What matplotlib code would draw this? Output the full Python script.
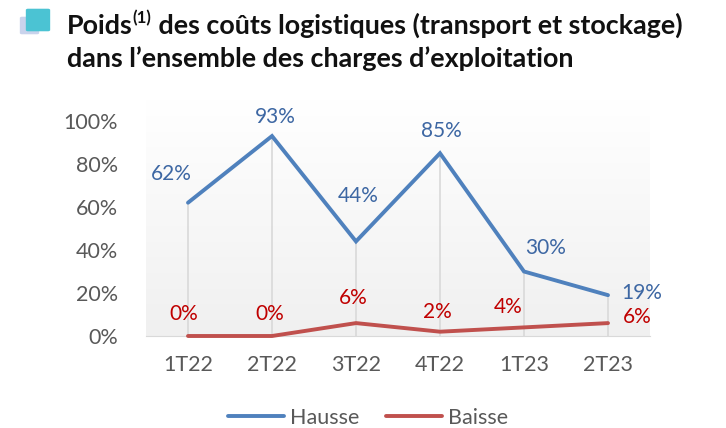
import numpy as np
import matplotlib
matplotlib.use("Agg")
import matplotlib.pyplot as plt
from matplotlib.patches import FancyBboxPatch
from matplotlib.lines import Line2D

## Donnees du graphique

trimestres = ['1T22', '2T22', '3T22', '4T22', '1T23', '2T23']
hausse     = [0.62, 0.93, 0.44, 0.85, 0.30, 0.19]
baisse     = [0.00, 0.00, 0.06, 0.02, 0.04, 0.06]
yticks     = [0.0, 0.2, 0.4, 0.6, 0.8, 1.0]

# decalages des etiquettes (pixels) par rapport aux points
off_hausse = [(-17, 29), (3, 19), (2, 45), (1, 22), (22, 23), (34, 2)]
off_baisse = [(-4, 22), (-2, 22), (-3, 25), (-3, 20), (-16, 20), (29, 6)]

c_hausse = '#4f81bd'
c_baisse = '#c0504d'
c_lab_h  = '#3d67a3'
c_lab_b  = '#c00000'
c_txt    = '#595959'

plt.rcParams['font.family'] = ['Lato', 'DejaVu Sans']

W, H = 726, 428
fig = plt.figure(figsize=(W / 100, H / 100), dpi=100)

def fx(px):
    return px / W

def fy(py):
    return 1 - py / H

## Fond en degrade

x0, x1 = 146, 650
y_0, y_100 = 336, 121
bg = fig.add_axes([fx(x0), fy(y_0), fx(x1 - x0), fy(100) - fy(y_0)])
grad = np.linspace(0, 1, 256).reshape(-1, 1)
top = np.array([1.0, 1.0, 1.0])
bot = np.array([0xf0, 0xf0, 0xf0]) / 255
img = top + (bot - top) * grad[..., None]
bg.imshow(img, aspect='auto', extent=[0, 1, 0, 1])
bg.set_axis_off()

## Axe principal

ax = fig.add_axes([fx(x0), fy(y_0), fx(x1 - x0), fy(y_100) - fy(y_0)])
ax.set_facecolor('none')
xs = np.arange(len(trimestres))
ax.set_xlim(-0.5, len(trimestres) - 0.5)
ax.set_ylim(0, 1.0)

ax.vlines(xs, 0, hausse, color='#d9d9d9', lw=1.2, zorder=1)
ax.plot(xs, hausse, color=c_hausse, lw=2.8, solid_capstyle='round',
        solid_joinstyle='miter', zorder=3, clip_on=False)
ax.plot(xs, baisse, color=c_baisse, lw=2.8, solid_capstyle='round',
        solid_joinstyle='miter', zorder=3, clip_on=False)

for i in range(len(xs)):
    ax.annotate(f"{round(hausse[i] * 100)}%", (xs[i], hausse[i]),
                xytext=off_hausse[i], textcoords='offset pixels',
                ha='center', va='center', fontsize=15, color=c_lab_h)
    ax.annotate(f"{round(baisse[i] * 100)}%", (xs[i], baisse[i]),
                xytext=off_baisse[i], textcoords='offset pixels',
                ha='center', va='center', fontsize=15, color=c_lab_b)

ax.set_xticks(xs)
ax.set_xticklabels(trimestres)
ax.set_yticks(yticks)
ax.set_yticklabels([f"{int(v * 100)}%" for v in yticks])
ax.tick_params(axis='both', length=0, labelsize=15.5, colors=c_txt)
ax.tick_params(axis='x', pad=14)
ax.tick_params(axis='y', pad=20)
for s in ['top', 'right', 'left']:
    ax.spines[s].set_visible(False)
ax.spines['bottom'].set_color('#d9d9d9')

## Legende

handles = [Line2D([], [], color=c_hausse, lw=2.8, solid_capstyle='round'),
           Line2D([], [], color=c_baisse, lw=2.8, solid_capstyle='round')]
fig.legend(handles, ['Hausse', 'Baisse'], loc='center',
           bbox_to_anchor=(fx(368), fy(418)), ncol=2, frameon=False,
           fontsize=15.5, labelcolor=c_txt, handlelength=2.6,
           handletextpad=0.3, columnspacing=1.2)

## Titre avec icone

fig.patches.append(FancyBboxPatch((fx(22), fy(33)), fx(15), fy(18) - fy(33),
                                  boxstyle='round,pad=0.003',
                                  transform=fig.transFigure,
                                  fc='#c9d3ec', ec='none', zorder=1))
fig.patches.append(FancyBboxPatch((fx(28), fy(30)), fx(20), fy(10) - fy(30),
                                  boxstyle='round,pad=0.003',
                                  transform=fig.transFigure,
                                  fc='#4bc3d3', ec='none', zorder=2))

tsize = 19.4
t1 = fig.text(fx(67), fy(38), "Poids", fontsize=tsize, fontweight='bold',
              color='#111111', va='bottom')
t2 = ax.annotate("(1)", xy=(1, 0.5), xycoords=t1, fontsize=tsize * 0.62,
                 fontweight='bold', color='#111111', va='bottom', ha='left')
t3 = ax.annotate(" des coûts logistiques (transport et stockage)",
                 xy=(1, 0), xycoords=(t2, t1), fontsize=tsize,
                 fontweight='bold', color='#111111', va='bottom', ha='left')
fig.text(fx(67), fy(71), "dans l\u2019ensemble des charges d\u2019exploitation",
         fontsize=tsize, fontweight='bold', color='#111111', va='bottom')

fig.savefig("out.png", dpi=100)
